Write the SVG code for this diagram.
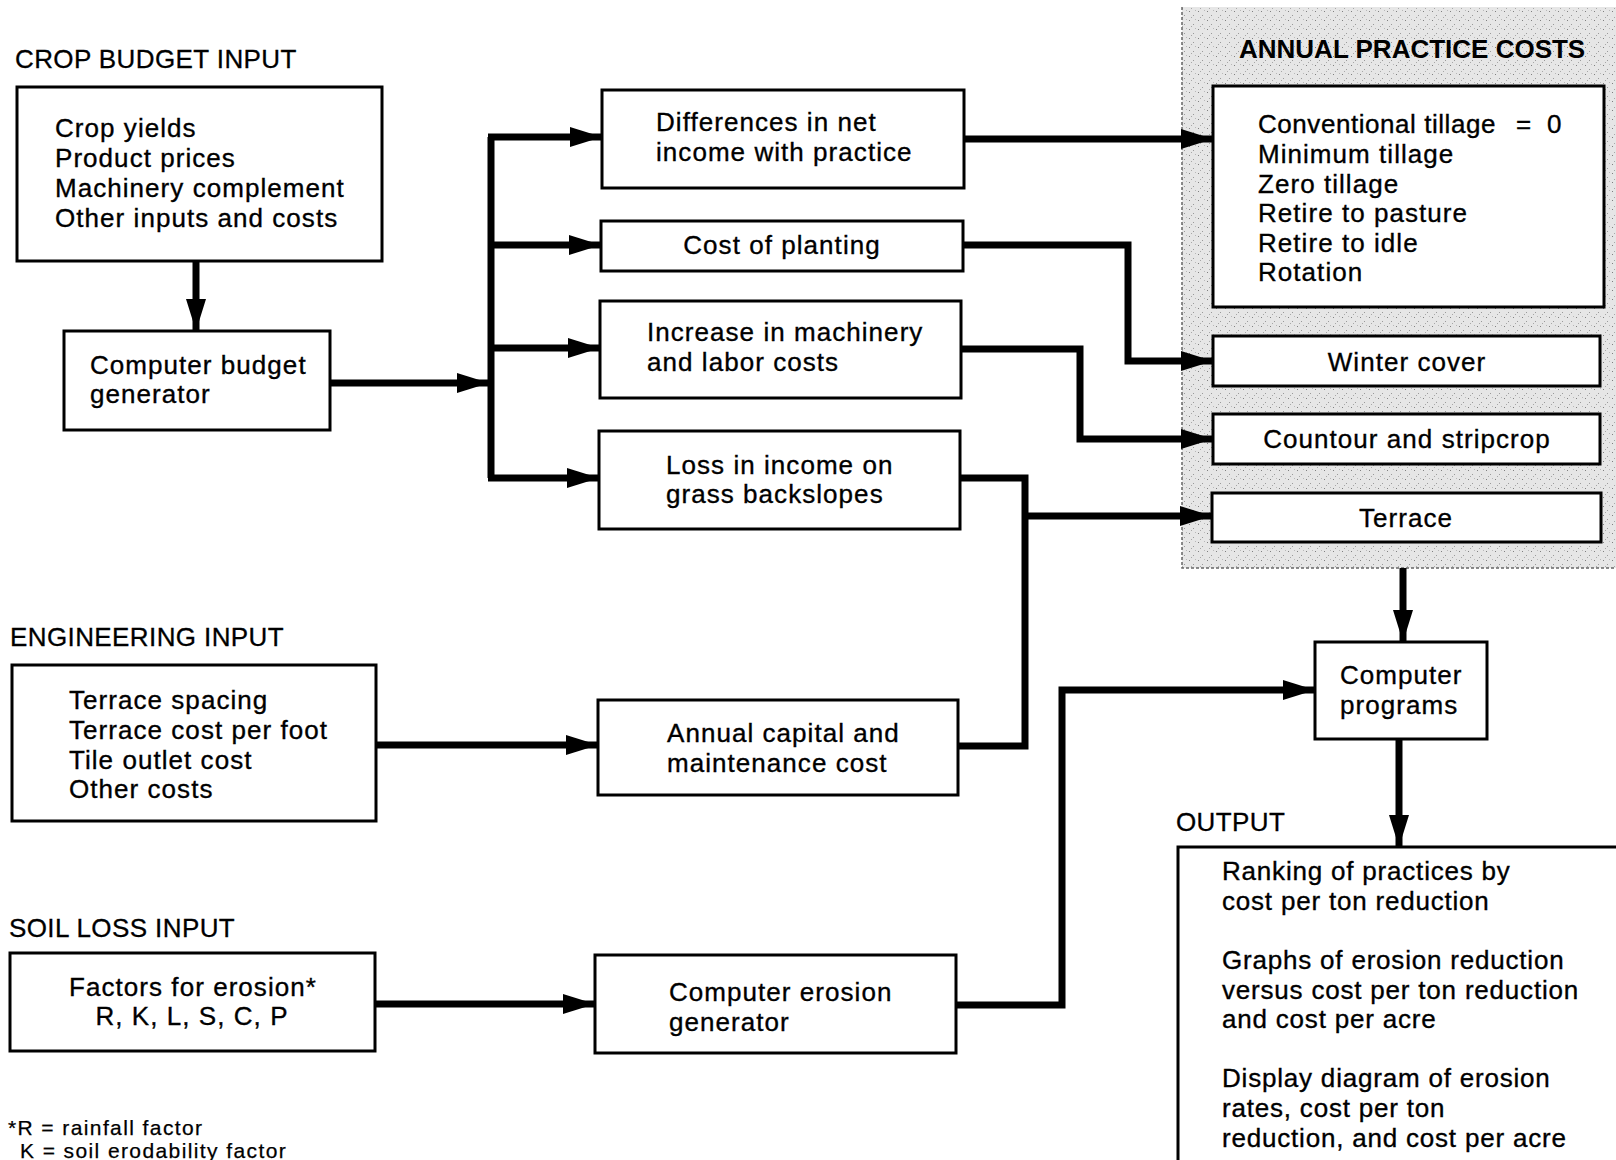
<svg xmlns="http://www.w3.org/2000/svg" width="1616" height="1160" viewBox="0 0 1616 1160">
<defs>
<style>
.bg{fill:#ffffff}
.box{fill:#ffffff;stroke:#000;stroke-width:3}
.t{font-family:"Liberation Sans",Arial,Helvetica,sans-serif;font-size:26px;letter-spacing:1.05px;fill:#000;stroke:#000;stroke-width:0.35px}
.o{letter-spacing:0.8px}
.h{font-family:"Liberation Sans",Arial,Helvetica,sans-serif;font-size:26px;letter-spacing:0.4px;fill:#000;stroke:#000;stroke-width:0.3px}
.hb{font-family:"Liberation Sans",Arial,Helvetica,sans-serif;font-size:26px;font-weight:bold;fill:#000}
.fn{font-family:"Liberation Sans",Arial,Helvetica,sans-serif;font-size:21px;letter-spacing:1.4px;fill:#000;stroke:#000;stroke-width:0.25px}
.c{text-anchor:middle}
.ln{fill:none;stroke:#000;stroke-width:7}
.arr{fill:none;stroke:#000;stroke-width:7;marker-end:url(#ah)}
</style>
<marker id="ah" markerUnits="userSpaceOnUse" markerWidth="34" markerHeight="22" refX="32" refY="10" orient="auto">
<path d="M0,0 L32,10 L0,20 Z" fill="#000"/>
</marker>
<pattern id="stip" width="9" height="9" patternUnits="userSpaceOnUse">
<rect width="9" height="9" fill="#e6e6e6"/>
<rect x="1" y="2" width="1" height="1" fill="#808080"/>
<rect x="5" y="6" width="1" height="1" fill="#9a9a9a"/>
<rect x="7" y="1" width="1" height="1" fill="#b8b8b8"/>
<rect x="3" y="8" width="1" height="1" fill="#a8a8a8"/>
</pattern>
</defs>
<rect class="bg" x="0" y="0" width="1616" height="1160"/>

<g id="annual-practice-region">
<rect x="1182" y="7" width="440" height="561" fill="url(#stip)"/>
<path d="M1182,7 V568 H1616" fill="none" stroke="#666" stroke-width="1.5" stroke-dasharray="3,2"/>
<text class="hb" x="1239" y="58">ANNUAL PRACTICE COSTS</text>
</g>

<g id="labels">
<text class="h" x="15" y="68">CROP BUDGET INPUT</text>
<text class="h" x="10" y="646">ENGINEERING INPUT</text>
<text class="h" x="9" y="937">SOIL LOSS INPUT</text>
<text class="h" x="1176" y="831">OUTPUT</text>
</g>

<g id="connectors">
<line class="arr" x1="196" y1="261" x2="196" y2="331"/>
<line class="arr" x1="330" y1="383" x2="489" y2="383"/>
<path class="ln" d="M491,137 V478" stroke-width="8"/>
<line class="arr" x1="488" y1="137" x2="602" y2="137"/>
<line class="arr" x1="488" y1="245" x2="601" y2="245"/>
<line class="arr" x1="488" y1="348" x2="600" y2="348"/>
<line class="arr" x1="488" y1="478" x2="599" y2="478"/>
<line class="arr" x1="964" y1="139" x2="1213" y2="139"/>
<path class="arr" d="M963,245 H1128 V361 H1213"/>
<path class="arr" d="M961,349 H1080 V439 H1213"/>
<path class="ln" d="M960,478 H1025 V746 H958"/>
<line class="arr" x1="1025" y1="516" x2="1212" y2="516"/>
<line class="arr" x1="376" y1="745" x2="598" y2="745"/>
<line class="arr" x1="375" y1="1004" x2="595" y2="1004"/>
<path class="arr" d="M956,1005 H1062 V690 H1315"/>
<line class="arr" x1="1403" y1="568" x2="1403" y2="642"/>
<line class="arr" x1="1399" y1="739" x2="1399" y2="847"/>
</g>

<g id="crop-budget-input">
<rect class="box" x="17" y="87" width="365" height="174"/>
<text class="t" x="55" y="137">Crop yields</text>
<text class="t" x="55" y="167">Product prices</text>
<text class="t" x="55" y="197">Machinery complement</text>
<text class="t" x="55" y="227">Other inputs and costs</text>
</g>

<g id="computer-budget-generator">
<rect class="box" x="64" y="331" width="266" height="99"/>
<text class="t" x="90" y="374">Computer budget</text>
<text class="t" x="90" y="403">generator</text>
</g>

<g id="differences-net-income">
<rect class="box" x="602" y="90" width="362" height="98"/>
<text class="t" x="656" y="131">Differences in net</text>
<text class="t" x="656" y="161">income with practice</text>
</g>

<g id="cost-of-planting">
<rect class="box" x="601" y="221" width="362" height="50"/>
<text class="t c" x="782" y="254">Cost of planting</text>
</g>

<g id="increase-machinery">
<rect class="box" x="600" y="301" width="361" height="97"/>
<text class="t" x="647" y="341">Increase in machinery</text>
<text class="t" x="647" y="371">and labor costs</text>
</g>

<g id="loss-in-income">
<rect class="box" x="599" y="431" width="361" height="98"/>
<text class="t" x="666" y="474">Loss in income on</text>
<text class="t" x="666" y="503">grass backslopes</text>
</g>

<g id="engineering-input">
<rect class="box" x="12" y="665" width="364" height="156"/>
<text class="t" x="69" y="709">Terrace spacing</text>
<text class="t" x="69" y="739">Terrace cost per foot</text>
<text class="t" x="69" y="769">Tile outlet cost</text>
<text class="t" x="69" y="798">Other costs</text>
</g>

<g id="annual-capital">
<rect class="box" x="598" y="700" width="360" height="95"/>
<text class="t" x="667" y="742">Annual capital and</text>
<text class="t" x="667" y="772">maintenance cost</text>
</g>

<g id="soil-loss-input">
<rect class="box" x="10" y="953" width="365" height="98"/>
<text class="t c" x="193" y="996">Factors for erosion*</text>
<text class="t c" x="192" y="1025">R, K, L, S, C, P</text>
</g>

<g id="computer-erosion-generator">
<rect class="box" x="595" y="955" width="361" height="98"/>
<text class="t" x="669" y="1001">Computer erosion</text>
<text class="t" x="669" y="1031">generator</text>
</g>

<g id="practices-list">
<rect class="box" x="1213" y="86" width="391" height="221"/>
<text class="t" x="1258" y="133" style="letter-spacing:0.55px">Conventional tillage<tspan x="1516">=</tspan><tspan x="1547">0</tspan></text>
<text class="t" x="1258" y="163">Minimum tillage</text>
<text class="t" x="1258" y="193">Zero tillage</text>
<text class="t" x="1258" y="222">Retire to pasture</text>
<text class="t" x="1258" y="252">Retire to idle</text>
<text class="t" x="1258" y="281">Rotation</text>
</g>

<g id="winter-cover">
<rect class="box" x="1213" y="336" width="387" height="50"/>
<text class="t c" x="1407" y="371">Winter cover</text>
</g>

<g id="contour-stripcrop">
<rect class="box" x="1213" y="414" width="387" height="50"/>
<text class="t c" x="1407" y="448">Countour and stripcrop</text>
</g>

<g id="terrace">
<rect class="box" x="1212" y="493" width="389" height="49"/>
<text class="t c" x="1406" y="527">Terrace</text>
</g>

<g id="computer-programs">
<rect class="box" x="1315" y="642" width="172" height="97"/>
<text class="t" x="1340" y="684">Computer</text>
<text class="t" x="1340" y="714">programs</text>
</g>

<g id="output">
<path d="M1622,847 H1178 V1166" fill="#fff" stroke="#000" stroke-width="3"/>
<text class="t o" x="1222" y="880">Ranking of practices by</text>
<text class="t o" x="1222" y="910">cost per ton reduction</text>
<text class="t o" x="1222" y="969">Graphs of erosion reduction</text>
<text class="t o" x="1222" y="999">versus cost per ton reduction</text>
<text class="t o" x="1222" y="1028">and cost per acre</text>
<text class="t o" x="1222" y="1087">Display diagram of erosion</text>
<text class="t o" x="1222" y="1117">rates, cost per ton</text>
<text class="t o" x="1222" y="1147">reduction, and cost per acre</text>
</g>

<g id="footnote">
<text class="fn" x="8" y="1135">*R = rainfall factor</text>
<text class="fn" x="20" y="1158">K = soil erodability factor</text>
</g>
</svg>
